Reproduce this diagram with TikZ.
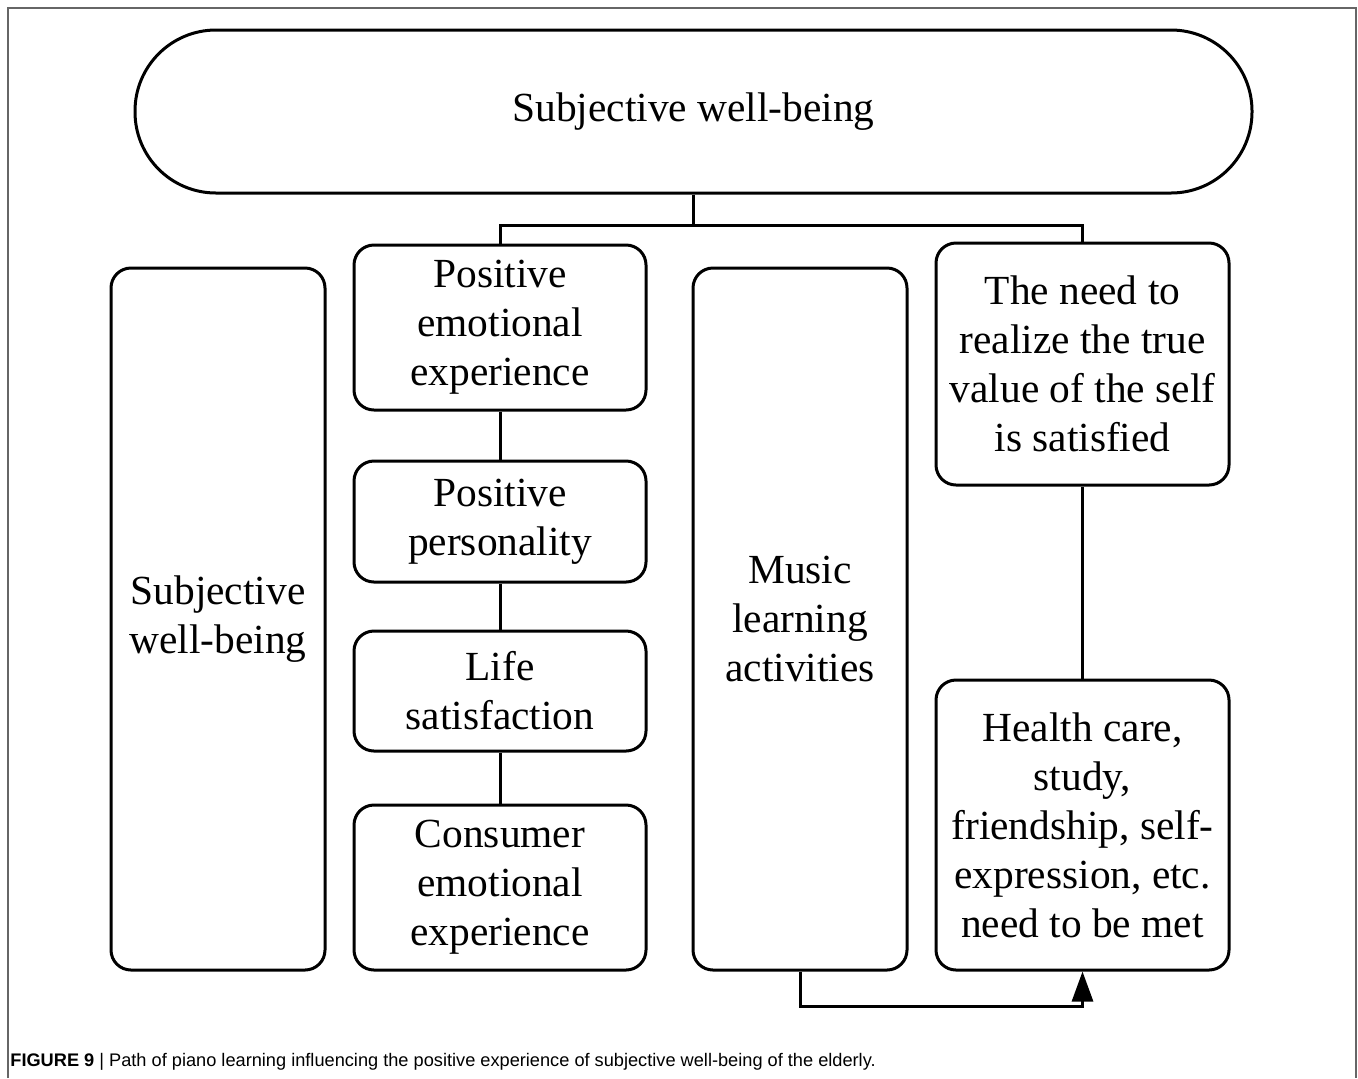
\documentclass[tikz,border=0pt]{standalone}
\usepackage{fontspec}
\setmainfont{Liberation Serif}
\newfontfamily\capfont{Liberation Sans}
\usetikzlibrary{positioning}
\usetikzlibrary {arrows.meta}
\tikzset{wellbox/.style={rectangle,draw=black,fill=white,line width=1.5pt,
rounded corners=10pt,align=center,inner sep=2pt,
font=\fontsize{20.7}{24.5}\selectfont}}
\tikzset{wellpill/.style={wellbox,rounded corners=40.5pt,
minimum width=558.5pt,minimum height=81.5pt}}
\tikzset{wellline/.style={line width=1.5pt,draw=black}}

\begin{document}
\begin{tikzpicture}[x=0.5pt,y=-0.5pt]
        \useasboundingbox (0,0) rectangle (1358,1078);
        \draw[line width=1pt,draw=black!60] (8,1078) -- (8,8) -- (1356,8) -- (1356,1078);

        \node[wellpill] (top) at (693.5,111.5) {\raisebox{-2pt}{Subjective well-being}};

        \node[wellbox,minimum width=107pt,minimum height=351pt] (boxL) at (218,619) {Subjective\\well-being};

        \node[wellbox,minimum width=146pt,minimum height=82.5pt] (boxA) at (500,327.5) {Positive\\emotional\\experience};
        \node[wellbox,minimum width=146pt,minimum height=60.5pt] (boxB) at (500,521.5) {Positive\\personality};
        \node[wellbox,minimum width=146pt,minimum height=60pt] (boxC) at (500,691) {Life\\satisfaction};
        \node[wellbox,minimum width=146pt,minimum height=82.5pt] (boxD) at (500,887.5) {Consumer\\emotional\\experience};

        \node[wellbox,minimum width=107pt,minimum height=351pt] (boxM) at (800,619) {Music\\learning\\activities};

        \node[wellbox,minimum width=146.5pt,minimum height=121pt] (boxN) at (1082.5,364) {The need to\\realize the true\\value of the self\\is satisfied};
        \node[wellbox,minimum width=146.5pt,minimum height=145pt] (boxH) at (1082.5,825) {Health care,\\study,\\friendship, self-\\expression, etc.\\need to be met};

        \coordinate (split) at (693.5,225);
        \draw[wellline] (top.south) -- (split);
        \draw[wellline] (boxA.north) |- (split) -| (boxN.north);

        \draw[wellline] (boxA) -- (boxB);
        \draw[wellline] (boxB) -- (boxC);
        \draw[wellline] (boxC) -- (boxD);
        \draw[wellline] (boxN) -- (boxH);

        \coordinate (turn) at (800,1006);
        \draw[wellline,-{Triangle[length=15pt,width=10.5pt]}] (boxM.south) -- (turn) -| (boxH.south);

        \node[anchor=base west,inner sep=0pt,font=\capfont\fontsize{9.1}{10}\selectfont] (caption) at (10,1066)
            {\textbf{FIGURE 9} | Path of piano learning influencing the positive experience of subjective well-being of the elderly.};
    \end{tikzpicture}
\end{document}
